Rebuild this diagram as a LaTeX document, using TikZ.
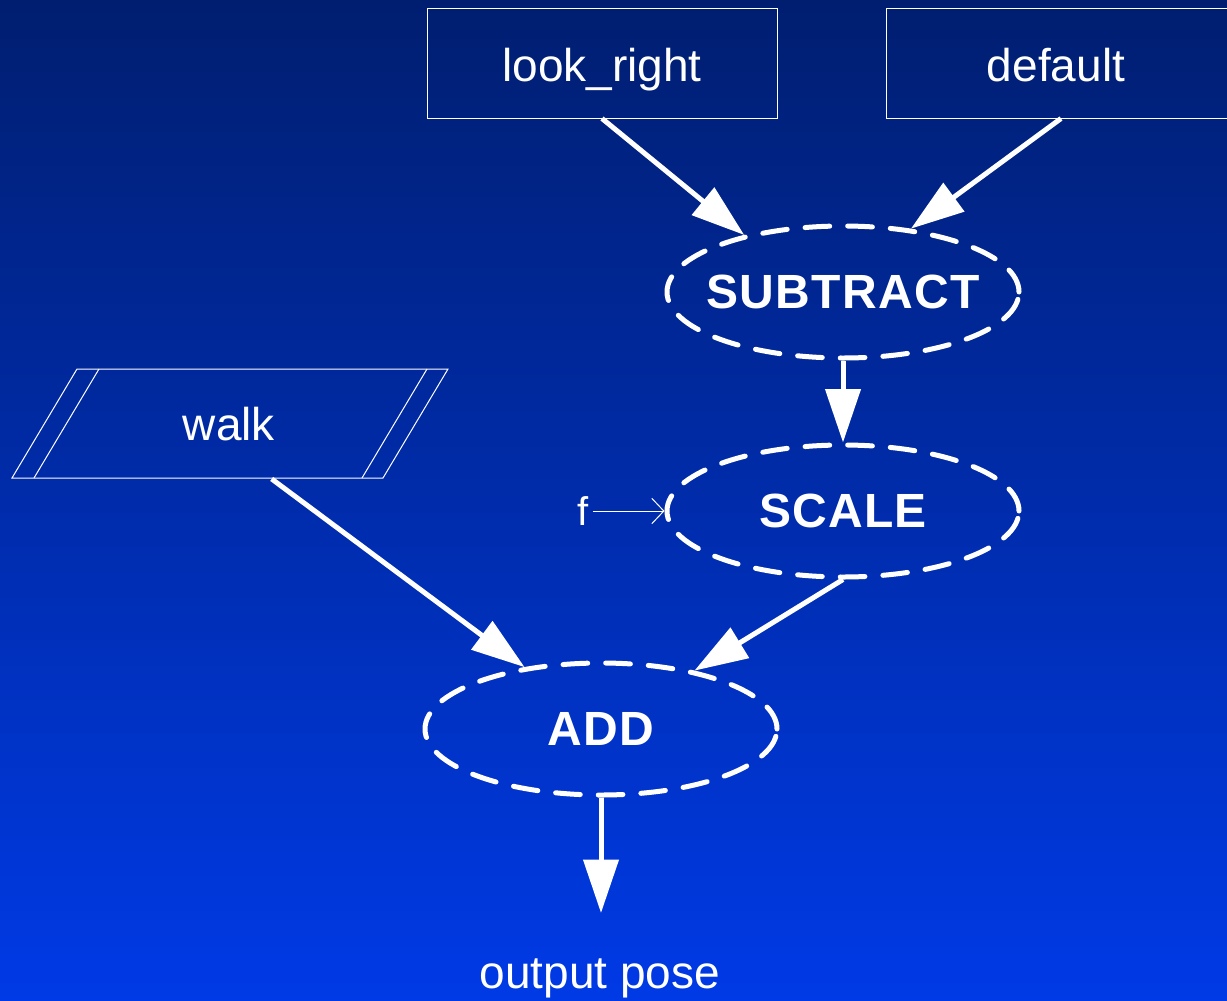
\documentclass[tikz,border=0pt]{standalone}
\usepackage{fontspec}
\setmainfont{Liberation Sans}
\usetikzlibrary{shapes.geometric,arrows.meta}
\definecolor{bgtop}{RGB}{0,30,112}
\definecolor{bgmid}{RGB}{0,48,194}
\definecolor{bgbot}{RGB}{0,58,230}
\tikzset{
  lbl/.style={text=white,font=\fontsize{34.5}{40}\selectfont},
  boxnode/.style={lbl,draw=white,line width=0.75pt,minimum width=262.5pt,minimum height=82.5pt,inner sep=0pt,text height=28pt,text depth=0pt},
  opnode/.style={ellipse,draw=white,line width=3.75pt,line cap=round,
     dash pattern=on 18.5pt off 13.5pt,minimum width=264pt,minimum height=99pt,inner sep=0pt,
     label={[text=white,font=\fontsize{36}{42}\selectfont\bfseries]center:#1}},
  flow/.style={draw=white,line width=3.75pt,-{Triangle[length=40pt,width=26pt]}},
  thin/.style={draw=white,line width=0.75pt},
}
\begin{document}
\begin{tikzpicture}[x=0.75pt,y=-0.75pt]
\useasboundingbox (0,0) rectangle (1227,1000);
\shade[top color=bgtop,middle color=bgmid,bottom color=bgbot] (0,0) rectangle (1227,1000);
% boxes
\node[boxnode] (lr) at (602,63) {look\_right};
\node[boxnode,minimum width=262.5pt] (def) at (1061,63) {\hspace*{-7.5pt}default};
% walk parallelogram
\draw[thin] (77,369) -- (448,369) -- (383,478) -- (12,478) -- cycle;
\draw[thin] (99,369) -- (34,478);
\draw[thin] (427,369) -- (362,478);
\node[lbl,inner sep=0pt,minimum height=82pt] (walk) at (229,424) {walk};
% operations
\node[opnode={S\kern1pt U\kern1pt B\kern1pt T\kern1pt R\kern1pt A\kern1pt C\kern1pt T}] (sub) at (843,292) {};
\node[opnode={S\kern1pt C\kern1pt A\kern1pt L\kern1pt E}] (scale) at (843,511) {};
\node[opnode={A\kern1pt D\kern1pt D}] (add) at (601,729) {};
% labels
\node[text=white,font=\fontsize{30}{36}\selectfont,inner sep=3pt] (f) at (583,511) {f};
\node[lbl] (out) at (600,978) {output pose};
\coordinate (outtip) at (601,913);
% connectors
\draw[flow] (lr.south) -- (sub.150);
\draw[flow] (def.south) -- (sub.43);
\draw[flow] (sub.south) -- (scale.north);
\draw[flow] ([xshift=32pt]walk.south) -- (add.141);
\draw[flow] (scale.south) -- (add.32);
\draw[flow] (add.south) -- (outtip);
\draw[thin,-{Straight Barb[length=9pt,width=19pt]}] (f.east) -- (scale.west);
\end{tikzpicture}
\end{document}
